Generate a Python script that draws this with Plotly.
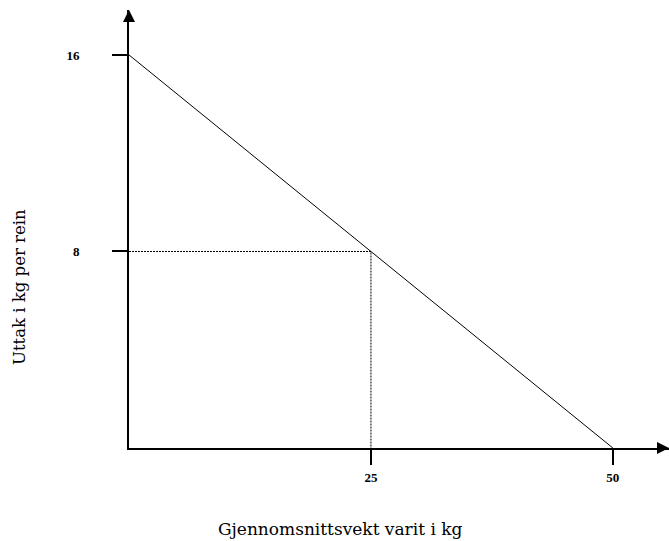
import plotly.graph_objects as go

# Data
line_x = [0, 50]
line_y = [16, 0]
ref_x = [0, 25, 25]
ref_y = [8, 8, 0]
x_ticks = [25, 50]
y_ticks = [8, 16]
x_title = "Gjennomsnittsvekt varit i kg"
y_title = "Uttak i kg per rein"

XMAX = 55.8
YMAX = 17.83
FONT = "DejaVu Serif, Liberation Serif, serif"
TFONT = "Liberation Serif, serif"

fig = go.Figure()
fig.add_trace(go.Scatter(x=line_x, y=line_y, mode="lines",
                         line=dict(color="black", width=1), hoverinfo="skip"))
fig.add_trace(go.Scatter(x=ref_x, y=ref_y, mode="lines",
                         line=dict(color="black", width=1, dash="2px,1px"), hoverinfo="skip"))

W, H = 669, 541
L, T, PW, PH = 129, 10, 540, 438
fig.update_layout(
    width=W, height=H,
    margin=dict(l=L, r=W - L - PW, t=T, b=H - T - PH),
    plot_bgcolor="white", paper_bgcolor="white",
    showlegend=False,
    font=dict(family=FONT, color="black"),
    xaxis=dict(range=[0, XMAX], showgrid=False, zeroline=False,
               showline=True, linecolor="black", linewidth=2,
               ticks="outside", ticklen=15, tickwidth=2, tickcolor="black",
               tickvals=x_ticks, ticktext=[str(v) for v in x_ticks],
               tickfont=dict(size=13, family=TFONT, weight="bold"),
               ticklabelstandoff=1, fixedrange=True),
    yaxis=dict(range=[0, YMAX], showgrid=False, zeroline=False,
               showline=True, linecolor="black", linewidth=2,
               ticks="outside", ticklen=15, tickwidth=2, tickcolor="black",
               tickvals=y_ticks, ticktext=[str(v) for v in y_ticks],
               tickfont=dict(size=13, family=TFONT, weight="bold"),
               ticklabelstandoff=30, fixedrange=True),
)

# axis arrows
fig.add_annotation(x=0, y=YMAX, xref="x", yref="y", ax=0, ay=12,
                   showarrow=True, arrowhead=2, arrowsize=1.2, arrowwidth=2,
                   arrowcolor="black", text="")
fig.add_annotation(x=XMAX, y=0, xref="x", yref="y", ax=-12, ay=0,
                   showarrow=True, arrowhead=2, arrowsize=1.2, arrowwidth=2,
                   arrowcolor="black", text="")

def px_to_paper_x(px):
    return (px - L) / PW

def px_to_paper_y(py):
    return 1 - (py - T) / PH

fig.add_annotation(text=x_title, xref="paper", yref="paper",
                   x=px_to_paper_x(340), y=px_to_paper_y(529),
                   showarrow=False, xanchor="center", yanchor="middle",
                   font=dict(size=17, family=FONT))
fig.add_annotation(text=y_title, xref="paper", yref="paper",
                   x=px_to_paper_x(19), y=px_to_paper_y(287),
                   showarrow=False, textangle=-90,
                   xanchor="center", yanchor="middle", font=dict(size=16.5, family=FONT))

fig.write_html(
    "out.html",
    config={"displayModeBar": False},
    post_script="document.body.style.margin='0';document.body.style.overflow='hidden';"
)
